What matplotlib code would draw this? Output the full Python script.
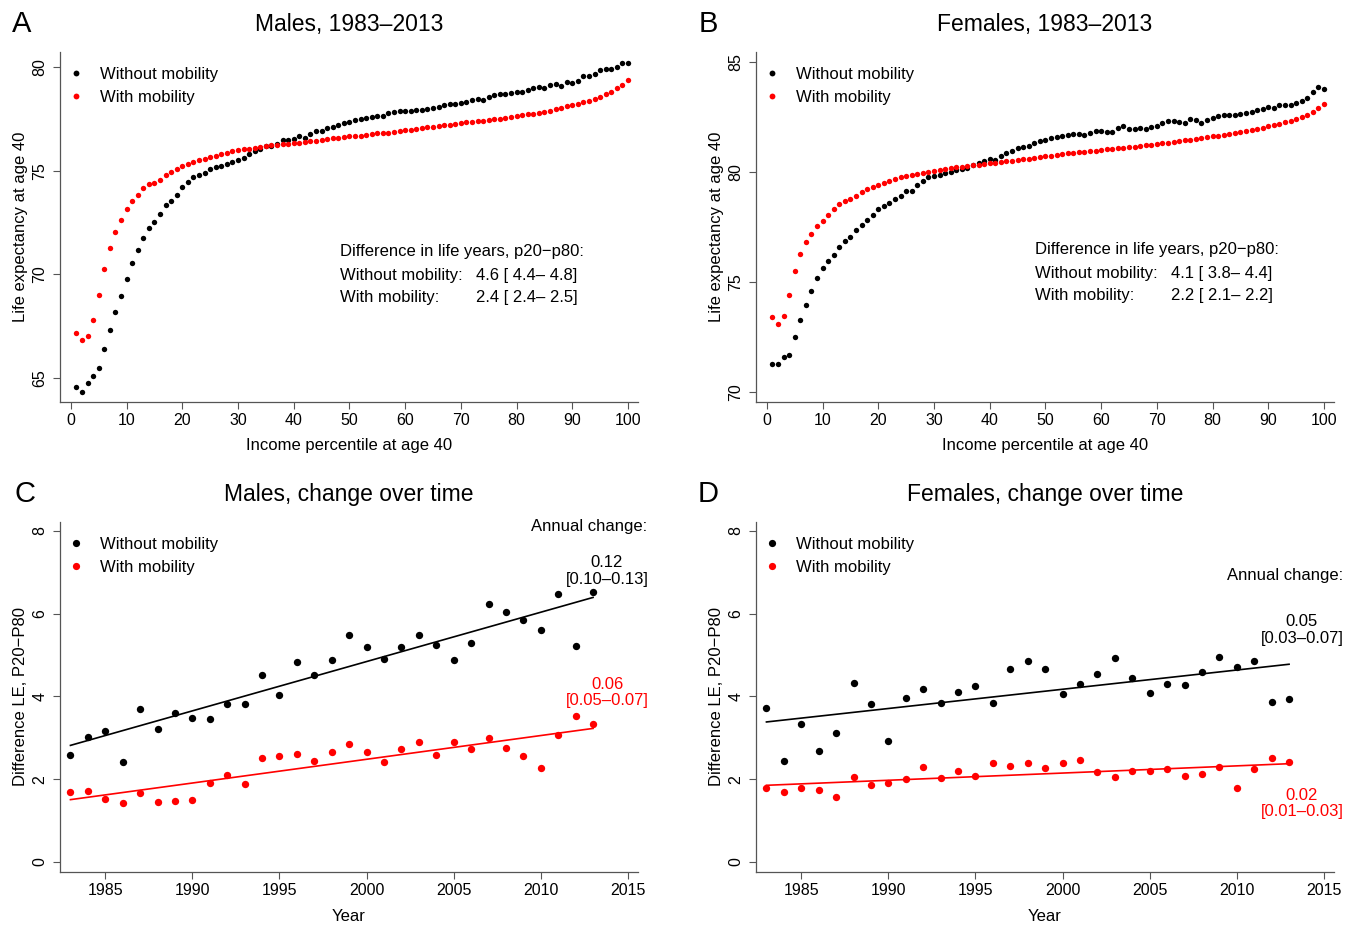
import numpy as np
import matplotlib
matplotlib.use('Agg')
import matplotlib.pyplot as plt
from matplotlib.lines import Line2D

plt.rcParams['font.family'] = ['Liberation Sans', 'DejaVu Sans']

# ---- data ----
pct = np.arange(1, 101)

male_wo = [64.58, 64.31, 64.74, 65.08, 65.50, 66.41, 67.33, 68.20, 68.97, 69.76,
           70.56, 71.16, 71.75, 72.22, 72.53, 72.90, 73.33, 73.55, 73.84, 74.20,
           74.47, 74.68, 74.79, 74.90, 75.10, 75.18, 75.24, 75.34, 75.42, 75.52,
           75.61, 75.79, 75.94, 76.05, 76.18, 76.21, 76.30, 76.47, 76.47, 76.54,
           76.67, 76.58, 76.79, 76.92, 76.92, 77.05, 77.13, 77.20, 77.28, 77.36,
           77.46, 77.51, 77.56, 77.59, 77.62, 77.64, 77.77, 77.82, 77.90, 77.86,
           77.90, 77.91, 77.94, 77.98, 78.01, 78.09, 78.17, 78.20, 78.20, 78.25,
           78.33, 78.41, 78.46, 78.41, 78.57, 78.65, 78.69, 78.71, 78.75, 78.78,
           78.81, 78.89, 78.99, 79.02, 79.00, 79.15, 79.17, 79.09, 79.28, 79.23,
           79.34, 79.55, 79.57, 79.68, 79.86, 79.91, 79.92, 79.99, 80.18, 80.21]

male_w = [67.17, 66.82, 67.01, 67.78, 69.00, 70.26, 71.26, 72.06, 72.61, 73.15,
          73.54, 73.81, 74.18, 74.36, 74.41, 74.57, 74.78, 74.92, 75.07, 75.23,
          75.32, 75.42, 75.52, 75.58, 75.68, 75.71, 75.79, 75.87, 75.94, 75.98,
          76.03, 76.06, 76.11, 76.14, 76.19, 76.22, 76.25, 76.27, 76.29, 76.32,
          76.36, 76.39, 76.42, 76.45, 76.49, 76.52, 76.56, 76.59, 76.62, 76.66,
          76.68, 76.70, 76.73, 76.76, 76.80, 76.82, 76.84, 76.88, 76.92, 76.96,
          76.99, 77.02, 77.05, 77.09, 77.12, 77.15, 77.19, 77.23, 77.27, 77.32,
          77.34, 77.37, 77.40, 77.42, 77.45, 77.48, 77.52, 77.56, 77.60, 77.64,
          77.68, 77.72, 77.76, 77.80, 77.85, 77.90, 77.96, 78.02, 78.10, 78.17,
          78.24, 78.31, 78.38, 78.48, 78.58, 78.70, 78.82, 78.97, 79.13, 79.38]

female_wo = [71.29, 71.29, 71.61, 71.71, 72.50, 73.29, 73.95, 74.61, 75.18, 75.67,
             75.97, 76.23, 76.59, 76.89, 77.05, 77.36, 77.59, 77.83, 78.05, 78.32,
             78.47, 78.61, 78.79, 78.94, 79.15, 79.17, 79.42, 79.59, 79.77, 79.85,
             79.88, 79.97, 80.01, 80.09, 80.15, 80.21, 80.35, 80.42, 80.51, 80.62,
             80.58, 80.76, 80.86, 80.95, 81.09, 81.14, 81.18, 81.32, 81.42, 81.45,
             81.55, 81.59, 81.65, 81.68, 81.73, 81.74, 81.71, 81.79, 81.86, 81.88,
             81.85, 81.82, 82.03, 82.12, 81.95, 81.97, 82.00, 81.97, 82.05, 82.12,
             82.25, 82.33, 82.33, 82.30, 82.25, 82.42, 82.36, 82.24, 82.39, 82.48,
             82.55, 82.60, 82.59, 82.59, 82.64, 82.71, 82.75, 82.83, 82.89, 82.97,
             82.91, 83.05, 83.05, 83.07, 83.14, 83.25, 83.39, 83.64, 83.89, 83.80]

female_w = [73.42, 73.09, 73.47, 74.41, 75.53, 76.30, 76.85, 77.21, 77.56, 77.79,
            78.08, 78.33, 78.56, 78.68, 78.77, 78.92, 79.11, 79.26, 79.35, 79.42,
            79.53, 79.62, 79.71, 79.77, 79.82, 79.86, 79.91, 79.97, 80.01, 80.08,
            80.12, 80.15, 80.18, 80.23, 80.26, 80.29, 80.32, 80.35, 80.38, 80.41,
            80.44, 80.47, 80.50, 80.53, 80.56, 80.59, 80.62, 80.65, 80.69, 80.72,
            80.75, 80.78, 80.82, 80.86, 80.89, 80.91, 80.93, 80.96, 80.99, 81.01,
            81.04, 81.06, 81.09, 81.11, 81.14, 81.17, 81.20, 81.23, 81.26, 81.29,
            81.32, 81.35, 81.38, 81.41, 81.45, 81.48, 81.52, 81.56, 81.60, 81.64,
            81.67, 81.71, 81.74, 81.78, 81.82, 81.87, 81.92, 81.97, 82.03, 82.09,
            82.15, 82.21, 82.27, 82.34, 82.42, 82.50, 82.59, 82.74, 82.92, 83.12]

years = np.arange(1983, 2014)

diff_male_wo = [2.58, 3.01, 3.16, 2.41, 3.70, 3.22, 3.60, 3.49, 3.46, 3.81,
                3.82, 4.52, 4.04, 4.84, 4.52, 4.89, 5.48, 5.19, 4.90, 5.20,
                5.49, 5.25, 4.88, 5.29, 6.23, 6.04, 5.85, 5.60, 6.47, 5.22, 6.53]
diff_male_w = [1.70, 1.72, 1.52, 1.42, 1.67, 1.46, 1.48, 1.50, 1.90, 2.09,
               1.89, 2.52, 2.56, 2.60, 2.43, 2.65, 2.85, 2.66, 2.42, 2.72,
               2.90, 2.58, 2.91, 2.72, 3.00, 2.75, 2.55, 2.27, 3.06, 3.53, 3.34]
diff_female_wo = [3.73, 2.45, 3.33, 2.67, 3.11, 4.32, 3.81, 2.92, 3.95, 4.19,
                  3.85, 4.11, 4.24, 3.83, 4.65, 4.86, 4.65, 4.05, 4.29, 4.54,
                  4.93, 4.44, 4.07, 4.30, 4.28, 4.58, 4.94, 4.71, 4.85, 3.86, 3.94]
diff_female_w = [1.78, 1.68, 1.79, 1.74, 1.56, 2.05, 1.87, 1.92, 2.00, 2.30,
                 2.04, 2.20, 2.08, 2.38, 2.31, 2.38, 2.27, 2.38, 2.46, 2.17,
                 2.05, 2.19, 2.19, 2.25, 2.08, 2.13, 2.30, 1.79, 2.25, 2.52, 2.42]

RED = '#FF0000'
AX_COL = '#555555'
W, H = 1357, 926

fig = plt.figure(figsize=(13.57, 9.26), dpi=100)


def rect(l, t, r, b):
    return [l / W, 1 - b / H, (r - l) / W, (b - t) / H]


def fx(x):
    return x / W


def fy(y):
    # text placed by its centre; small nudge since the bbox includes descenders
    return 1 - (y + 2.5) / H


def style(ax, xticks, yticks):
    for s in ['top', 'right']:
        ax.spines[s].set_visible(False)
    for s in ['left', 'bottom']:
        ax.spines[s].set_color(AX_COL)
        ax.spines[s].set_linewidth(0.9)
    ax.set_xticks(xticks)
    ax.set_yticks(yticks)
    ax.tick_params(direction='out', length=5, width=0.8, color=AX_COL, labelsize=11.5)
    ax.tick_params(axis='x', pad=3)
    ax.tick_params(axis='y', pad=4, labelrotation=90)
    plt.setp(ax.get_yticklabels(), va='center')


def legend(ax, ms):
    hs = [Line2D([], [], ls='', marker='o', color='k', ms=ms, mew=0),
          Line2D([], [], ls='', marker='o', color=RED, ms=ms, mew=0)]
    ax.legend(hs, ['Without mobility', 'With mobility'], loc='upper left',
              bbox_to_anchor=(0.019, 0.958), frameon=False, fontsize=12,
              handlelength=0.6, handletextpad=1.15, labelspacing=0.5,
              borderpad=0, borderaxespad=0)


axA = fig.add_axes(rect(60, 52, 638, 402))
axB = fig.add_axes(rect(756, 52, 1334, 402))
axC = fig.add_axes(rect(60, 522, 638, 872))
axD = fig.add_axes(rect(756, 522, 1334, 872))

# ---- top panels ----
for ax, wo, w, ylim, yt in [(axA, male_wo, male_w, (63.84, 80.73), [65, 70, 75, 80]),
                            (axB, female_wo, female_w, (69.56, 85.47), [70, 75, 80, 85])]:
    ax.scatter(pct, wo, s=15, color='k', linewidths=0, zorder=3)
    ax.scatter(pct, w, s=15, color=RED, linewidths=0, zorder=3)
    ax.set_xlim(-1.95, 101.8)
    ax.set_ylim(*ylim)
    style(ax, range(0, 101, 10), yt)
    ax.set_xlabel('Income percentile at age 40', fontsize=12)
    ax.set_ylabel('Life expectancy at age 40', fontsize=12)
    ax.xaxis.set_label_coords(0.5, -0.123)
    ax.xaxis.label.set_va('center')
    ax.yaxis.set_label_coords(-0.069, 0.5)
    ax.yaxis.label.set_va('center')
    legend(ax, 4.2)

# ---- bottom panels ----
for ax, wo, w in [(axC, diff_male_wo, diff_male_w), (axD, diff_female_wo, diff_female_w)]:
    ax.scatter(years, wo, s=28, color='k', linewidths=0, zorder=3)
    ax.scatter(years, w, s=28, color=RED, linewidths=0, zorder=3)
    for vals, col in [(wo, 'k'), (w, RED)]:
        b, a = np.polyfit(years, vals, 1)
        ax.plot(years, a + b * years, color=col, lw=1.2, zorder=2)
    ax.set_xlim(1982.4, 2015.58)
    ax.set_ylim(-0.24, 8.21)
    style(ax, range(1985, 2016, 5), [0, 2, 4, 6, 8])
    ax.set_xlabel('Year', fontsize=12)
    ax.set_ylabel('Difference LE, P20\u2212P80', fontsize=12)
    ax.xaxis.set_label_coords(0.5, -0.126)
    ax.xaxis.label.set_va('center')
    ax.yaxis.set_label_coords(-0.069, 0.5)
    ax.yaxis.label.set_va('center')
    legend(ax, 5.2)

# ---- titles and panel letters ----
fig.text(fx(349), fy(22), 'Males, 1983\u20132013', ha='center', va='center', fontsize=16.5)
fig.text(fx(1045), fy(22), 'Females, 1983\u20132013', ha='center', va='center', fontsize=16.5)
fig.text(fx(349), fy(492), 'Males, change over time', ha='center', va='center', fontsize=16.5)
fig.text(fx(1045), fy(492), 'Females, change over time', ha='center', va='center', fontsize=16.5)
for letter, x, y in [('A', 22, 21), ('B', 708, 21), ('C', 25, 491), ('D', 708, 491)]:
    fig.text(fx(x), fy(y), letter, ha='center', va='center', fontsize=21)

# ---- p20-p80 difference boxes ----
for x0, y0, v1, v2 in [(340, 249, '4.6 [ 4.4\u2013 4.8]', '2.4 [ 2.4\u2013 2.5]'),
                       (1035, 247, '4.1 [ 3.8\u2013 4.4]', '2.2 [ 2.1\u2013 2.2]')]:
    fig.text(fx(x0), fy(y0), 'Difference in life years, p20\u2212p80:', ha='left', va='center', fontsize=12)
    fig.text(fx(x0), fy(y0 + 24), 'Without mobility:', ha='left', va='center', fontsize=12)
    fig.text(fx(x0 + 136), fy(y0 + 24), v1, ha='left', va='center', fontsize=12)
    fig.text(fx(x0), fy(y0 + 46), 'With mobility:', ha='left', va='center', fontsize=12)
    fig.text(fx(x0 + 136), fy(y0 + 46), v2, ha='left', va='center', fontsize=12)

# ---- annual change annotations ----
fig.text(fx(647), fy(524), 'Annual change:', ha='right', va='center', fontsize=12)
fig.text(fx(607), fy(560), '0.12', ha='center', va='center', fontsize=12)
fig.text(fx(607), fy(577), '[0.10\u20130.13]', ha='center', va='center', fontsize=12)
fig.text(fx(607), fy(682), '0.06', ha='center', va='center', fontsize=12, color=RED)
fig.text(fx(607), fy(698), '[0.05\u20130.07]', ha='center', va='center', fontsize=12, color=RED)

fig.text(fx(1343), fy(573), 'Annual change:', ha='right', va='center', fontsize=12)
fig.text(fx(1302), fy(619), '0.05', ha='center', va='center', fontsize=12)
fig.text(fx(1302), fy(636), '[0.03\u20130.07]', ha='center', va='center', fontsize=12)
fig.text(fx(1302), fy(793), '0.02', ha='center', va='center', fontsize=12, color=RED)
fig.text(fx(1302), fy(809), '[0.01\u20130.03]', ha='center', va='center', fontsize=12, color=RED)

fig.savefig('out.png', dpi=100)
